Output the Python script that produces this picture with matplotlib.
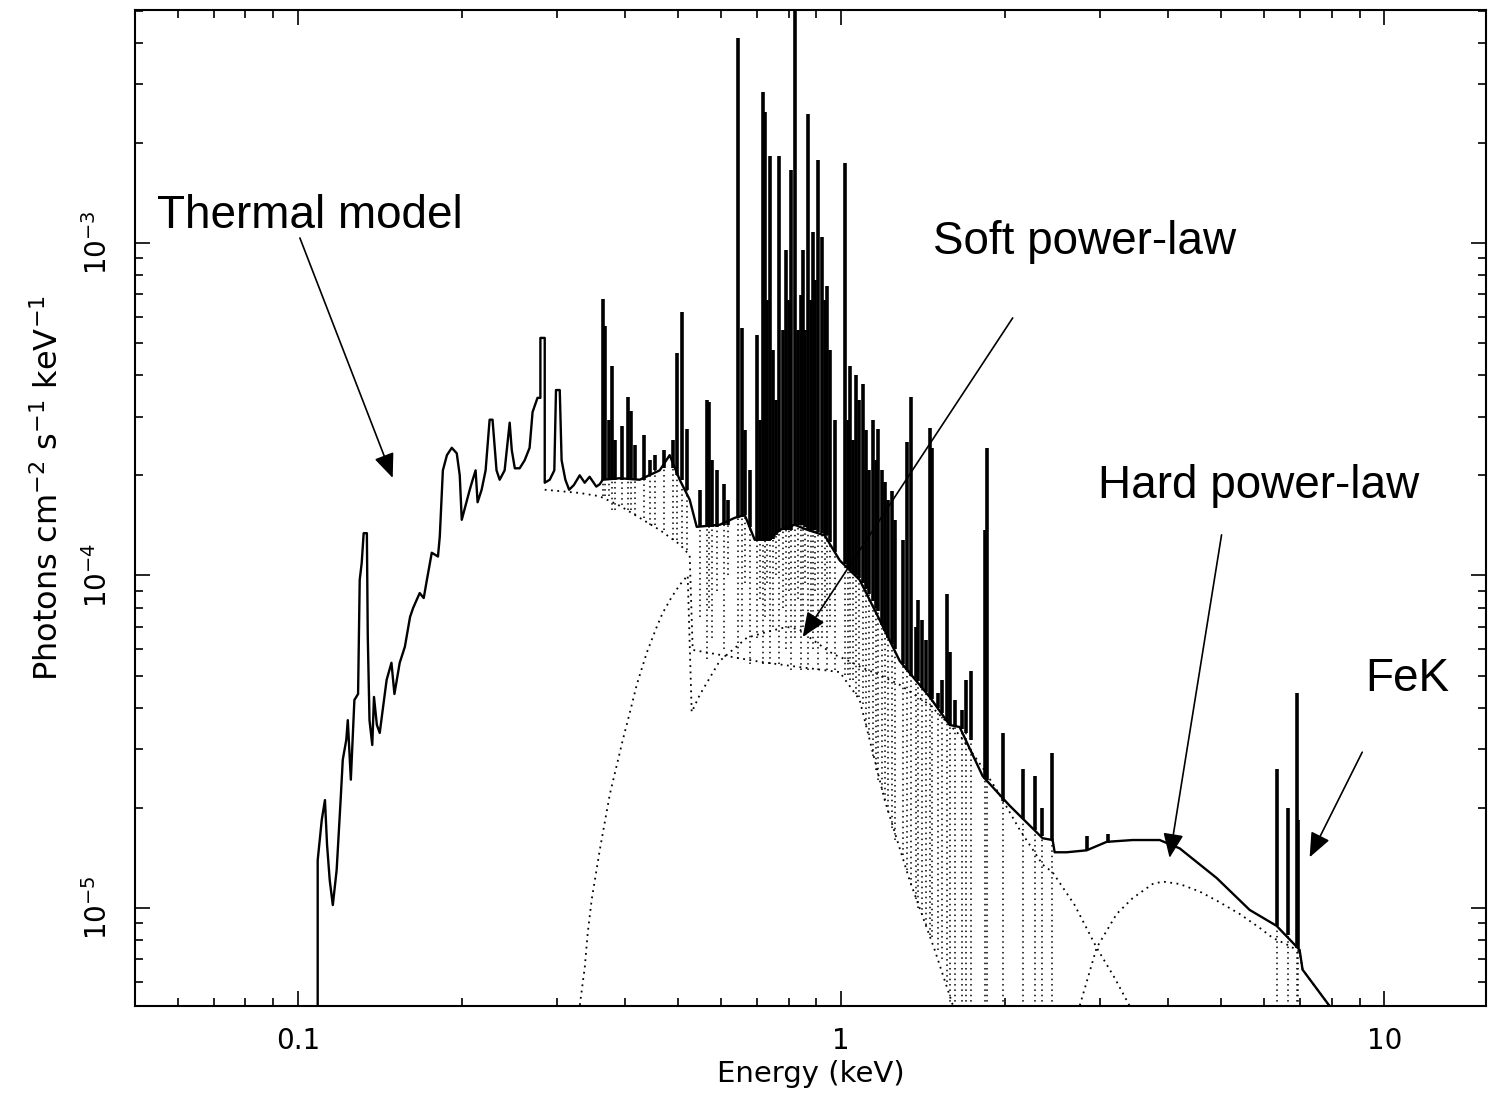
import numpy as np
import matplotlib
matplotlib.use('Agg')
import matplotlib.pyplot as plt
from matplotlib import ticker

# fluxes below are in units of 1e-5 photons cm^-2 s^-1 keV^-1, energies in keV

# total model: low energy part traced bin by bin, then the continuum under the lines
total_E = [0.1087, 0.1087, 0.1106, 0.1121, 0.1131, 0.1144, 0.1159, 0.1178, 0.1198, 0.1209,
           0.1227, 0.1235, 0.1251, 0.1270, 0.1290, 0.1299, 0.1310, 0.1321, 0.1339, 0.1344,
           0.1354, 0.1370, 0.1380, 0.1397, 0.1414, 0.1432, 0.1456, 0.1486, 0.1505, 0.1539,
           0.1573, 0.1608, 0.1629, 0.1675, 0.1704, 0.1727, 0.1763, 0.1810, 0.1824, 0.1848,
           0.1880, 0.1919, 0.1960, 0.1985, 0.2002, 0.2036, 0.2071, 0.2097, 0.2123, 0.2141,
           0.2178, 0.2215, 0.2253, 0.2281, 0.2320, 0.2351, 0.2401, 0.2453, 0.2475, 0.2507,
           0.2559, 0.2614, 0.2669, 0.2703, 0.2760, 0.2794, 0.2794, 0.2846, 0.2846, 0.2907,
           0.2964, 0.2985, 0.3033, 0.3057, 0.3106, 0.3156, 0.3220, 0.3301, 0.3371, 0.3442,
           0.3541, 0.3593, 0.3639, 0.3912, 0.4257, 0.4633, 0.4833, 0.5043, 0.5261, 0.5420,
           0.5975, 0.6368, 0.6644, 0.6931, 0.7386, 0.7705, 0.8209, 0.8675, 0.9324, 0.9937,
           1.0816, 1.1774, 1.2815, 1.4552, 1.5840, 1.6522, 1.8218, 2.0424, 2.3489, 2.4506,
           2.4717, 2.6006, 2.8308, 3.0814, 3.4401, 3.8572, 4.1997, 4.9118, 5.6494, 6.3333,
           6.9810, 7.0701, 7.9269, 8.1321]
total_F = [0.45, 1.39, 1.84, 2.11, 1.55, 1.21, 1.02, 1.30, 2.11, 2.79,
           3.20, 3.67, 2.43, 4.22, 4.40, 9.70, 10.9, 13.4, 13.4, 6.62,
           3.67, 3.09, 4.31, 3.55, 3.36, 3.94, 4.85, 5.46, 4.40, 5.46,
           6.10, 7.50, 7.98, 8.85, 8.55, 9.70, 11.7, 11.4, 13.1, 20.7,
           23.0, 24.2, 23.3, 20.0, 14.7, 16.3, 18.1, 19.4, 20.7, 16.6,
           18.1, 20.7, 29.4, 29.4, 20.7, 19.4, 20.7, 28.8, 23.8, 21.0,
           21.0, 22.2, 24.2, 31.0, 34.2, 34.2, 51.8, 51.8, 19.0, 19.4,
           20.7, 36.1, 36.1, 22.2, 19.4, 18.1, 18.7, 20.0, 19.0, 19.8,
           18.5, 18.8, 19.4, 19.6, 19.4, 20.7, 23.0, 19.4, 16.9, 14.0,
           14.2, 14.9, 15.2, 12.8, 12.8, 13.7, 14.2, 13.7, 13.2, 11.1,
           9.69, 7.34, 5.53, 4.31, 3.55, 3.50, 2.49, 2.03, 1.62, 1.60,
           1.47, 1.47, 1.49, 1.58, 1.60, 1.60, 1.51, 1.23, 0.986, 0.883,
           0.748, 0.652, 0.507, 0.45]

# emission lines: energy, foot on the total, peak, foot of the thermal (dotted) line
line_E = [0.3639, 0.3670, 0.3733, 0.3781, 0.3829, 0.3945, 0.4046, 0.4098, 0.4169, 0.4330,
          0.4441, 0.4536, 0.4712, 0.4896, 0.4979, 0.5086, 0.5194, 0.5490, 0.5655, 0.5703,
          0.5776, 0.5900, 0.6077, 0.6181, 0.6449, 0.6560, 0.6644, 0.6786, 0.6990, 0.7079,
          0.7170, 0.7232, 0.7293, 0.7386, 0.7481, 0.7576, 0.7673, 0.7804, 0.7904, 0.8005,
          0.8071, 0.8209, 0.8315, 0.8422, 0.8494, 0.8567, 0.8675, 0.8787, 0.8861, 0.8937,
          0.9051, 0.9206, 0.9324, 0.9404, 0.9524, 0.9728, 1.0149, 1.028, 1.0366, 1.050,
          1.0634, 1.077, 1.0954, 1.1094, 1.1235, 1.1428, 1.1575, 1.1674, 1.1873, 1.2026,
          1.2180, 1.2389, 1.2546, 1.2979, 1.3201, 1.3425, 1.3712, 1.3829, 1.4066, 1.4306,
          1.4552, 1.4677, 1.5053, 1.5311, 1.5640, 1.5840, 1.6180, 1.6664, 1.6948, 1.7312,
          1.8373, 1.8530, 1.9827, 2.1580, 2.2706, 2.3390, 2.4403, 2.8308, 3.0946, 6.3333,
          6.6348, 6.8930, 6.9219]
line_base = [19.4, 19.4, 19.4, 19.4, 19.4, 19.4, 19.4, 19.4, 19.4, 19.4,
             20.0, 20.7, 21.0, 21.0, 20.0, 19.4, 18.1, 14.0, 14.0, 14.0,
             14.0, 14.0, 14.2, 14.2, 14.9, 15.0, 15.2, 14.0, 12.8, 12.8,
             12.8, 12.8, 12.8, 12.8, 12.9, 13.2, 13.5, 13.7, 13.7, 13.7,
             13.7, 14.2, 14.2, 14.2, 14.2, 14.0, 13.7, 13.7, 13.7, 13.7,
             13.5, 13.4, 13.2, 13.2, 12.6, 11.8, 10.8, 10.5, 10.4, 10.2,
             10.0, 9.8, 9.5, 9.1, 8.8, 8.4, 8.0, 7.8, 7.1, 6.8,
             6.5, 6.2, 6.0, 5.4, 5.2, 5.0, 4.9, 4.8, 4.6, 4.45,
             4.31, 4.25, 4.0, 3.85, 3.65, 3.55, 3.52, 3.45, 3.35, 3.2,
             2.45, 2.42, 2.1, 1.85, 1.72, 1.64, 1.60, 1.49, 1.57, 0.883,
             0.83, 0.76, 0.76]
line_top = [67.9, 56.2, 29.4, 42.7, 25.6, 28.2, 34.4, 31.2, 24.7, 26.5,
            22.2, 23.0, 23.8, 25.6, 46.6, 62.0, 27.6, 18.1, 33.7, 33.3,
            22.2, 20.7, 18.8, 16.9, 414, 55.5, 27.4, 20.7, 52.8, 29.4,
            285, 248, 67.4, 183, 47.6, 33.7, 183, 54.7, 95.3, 67.4,
            166, 538, 54.7, 69.8, 95.3, 54.7, 244, 67.4, 108, 77.4,
            177, 104, 67.4, 74.3, 47.6, 29.4, 174, 29.4, 42.7, 25.6,
            40.1, 33.7, 37.6, 27.4, 20.7, 29.4, 22.2, 27.6, 20.7, 19.1,
            16.9, 17.9, 14.7, 12.8, 25.2, 34.4, 7.00, 8.44, 7.34, 6.40,
            27.8, 24.2, 4.43, 4.85, 8.80, 5.9, 4.22, 3.94, 4.85, 5.16,
            13.7, 24.2, 3.36, 2.62, 2.49, 2.00, 2.92, 1.65, 1.67, 2.62,
            2.00, 4.43, 1.84]
thermal_low = [17.3, 17.3, 17.3, 15.7, 15.7, 16.3, 15.7, 15.7, 15.2, 14.9,
               14.2, 14.2, 13.7, 12.8, 12.8, 12.4, 11.9, 7.5, 5.6, 8.0,
               6.5, 9.0, 6.0, 10.0, 5.6, 7.0, 9.5, 5.4, 6.5, 8.5,
               5.4, 7.5, 9.5, 5.4, 7.0, 10.0, 5.4, 8.0, 6.0, 9.0,
               5.2, 6.5, 8.5, 5.2, 7.0, 9.5, 5.2, 7.5, 6.0, 9.0,
               5.2, 6.5, 8.0, 5.2, 7.0, 5.2, 5.02, 5.02, 4.85, 4.85,
               4.4, 4.3, 4.1, 3.55, 3.31, 2.86, 2.60, 2.43, 2.26, 2.11,
               1.94, 1.74, 1.60, 1.44, 1.30, 1.17, 1.06, 1.0, 0.95, 0.89,
               0.83, 0.82, 0.748, 0.7, 0.6, 0.45, 0.45, 0.45, 0.45, 0.45,
               0.45, 0.45, 0.45, 0.45, 0.45, 0.45, 0.45, 1.49, 1.57, 0.45,
               0.45, 0.45, 0.45]

# thermal continuum (dotted)
th_E = [0.2846, 0.3301, 0.3593, 0.3912, 0.4257, 0.4633, 0.5043, 0.5261, 0.5329, 0.5975,
        0.7079, 0.8386, 0.9937, 1.0816, 1.2026, 1.3368, 1.4863, 1.6180]
th_F = [18.1, 17.7, 17.3, 16.2, 14.9, 13.7, 12.4, 11.5, 5.97, 5.77,
        5.50, 5.30, 5.12, 4.22, 2.11, 1.21, 0.748, 0.49]

# soft power-law (dotted)
spl_E = [0.3273, 0.3301, 0.3373, 0.3415, 0.3473, 0.3593, 0.3749, 0.3962, 0.4081, 0.4204,
         0.4385, 0.4575, 0.4692, 0.4875, 0.5043, 0.5217, 0.5306, 0.5490, 0.5975, 0.6701,
         0.7293, 0.7938, 0.8386, 0.8861, 0.9647, 1.0236, 1.0954, 1.1774, 1.2815, 1.4552,
         1.6522, 1.8218, 1.9578, 2.1308, 2.3489, 2.4506, 2.6903, 2.9534, 3.1874, 3.3969,
         3.4696]
spl_F = [0.49, 0.507, 0.665, 0.841, 1.06, 1.49, 2.19, 3.20, 3.86, 4.69,
         5.85, 7.00, 7.71, 8.61, 9.36, 10.0, 3.88, 4.37, 5.53, 6.49,
         6.76, 7.00, 6.88, 6.40, 5.81, 5.57, 5.27, 5.02, 4.69, 4.08,
         3.31, 2.64, 2.19, 1.72, 1.35, 1.28, 1.02, 0.759, 0.616, 0.507,
         0.477]

# hard power-law (dotted)
hpl_E = [2.714, 2.748, 2.9534, 3.2147, 3.4401, 3.7443, 3.9063, 4.1997, 4.5709, 4.9744,
         5.4150, 5.8935, 6.2263, 6.6913, 6.9810, 7.0701, 7.9269, 8.1321]
hpl_F = [0.49, 0.507, 0.759, 0.959, 1.07, 1.18, 1.20, 1.18, 1.12, 1.04,
         0.959, 0.871, 0.813, 0.769, 0.738, 0.652, 0.507, 0.477]

unit = 1e-5
dots = (0, (1, 2.5))

fig = plt.figure(figsize=(14.88, 10.95), dpi=100)
ax = fig.add_axes([0.0907, 0.0813, 0.9079, 0.9096])

line_E = np.array(line_E)
line_base = np.array(line_base) * unit
line_top = np.array(line_top) * unit
thermal_low = np.array(thermal_low) * unit

# dotted model components first, solid total on top
ax.plot(th_E, np.array(th_F) * unit, color='k', lw=1.3, ls=dots)
ax.plot(spl_E, np.array(spl_F) * unit, color='k', lw=1.3, ls=dots)
ax.plot(hpl_E, np.array(hpl_F) * unit, color='k', lw=1.3, ls=dots)
m = thermal_low < line_base
ax.vlines(line_E[m], thermal_low[m], line_top[m], colors='k', lw=1.1, linestyles=dots)

ax.plot(total_E, np.array(total_F) * unit, color='k', lw=1.7)
ax.vlines(line_E, line_base, line_top, colors='k', lw=2.6)

ax.set_xscale('log')
ax.set_yscale('log')
ax.set_xlim(0.0501, 15.38)
ax.set_ylim(5.07e-6, 5.02e-3)

ax.xaxis.set_major_formatter(ticker.FuncFormatter(lambda v, p: f'{v:g}'))
ax.xaxis.set_minor_formatter(ticker.NullFormatter())
ax.yaxis.set_minor_formatter(ticker.NullFormatter())
ax.tick_params(which='both', direction='in', top=True, right=True, width=1.2, labelsize=20)
ax.tick_params(which='major', length=11)
ax.tick_params(which='minor', length=6)
ax.tick_params(axis='x', pad=15)
ax.tick_params(axis='y', pad=16)
for lab in ax.get_yticklabels():
    lab.set_rotation(90)
    lab.set_va('center')
for s in ax.spines.values():
    s.set_linewidth(1.5)

ax.set_xlabel('Energy (keV)', fontsize=21, labelpad=4)
ax.set_ylabel(r'Photons cm$^{-2}$ s$^{-1}$ keV$^{-1}$', fontsize=23)
ax.yaxis.set_label_coords(-0.052, 0.52)

# annotations
afont = dict(fontsize=33, family='Liberation Sans', va='baseline')
head = dict(arrowstyle='-|>,head_length=0.6,head_width=0.25', color='k', lw=1.2,
            mutation_scale=25, shrinkA=0, shrinkB=0)
ax.text(0.0550, 1.11e-3, 'Thermal model', **afont)
ax.annotate('', xy=(0.1494, 1.964e-4), xytext=(0.1008, 1.035e-3), arrowprops=head)
ax.text(1.474, 9.27e-4, 'Soft power-law', **afont)
ax.annotate('', xy=(0.8494, 6.53e-5), xytext=(2.069, 5.95e-4), arrowprops=head)
ax.text(2.966, 1.71e-4, 'Hard power-law', **afont)
ax.annotate('', xy=(4.023, 1.414e-5), xytext=(5.015, 1.324e-4), arrowprops=head)
ax.text(9.21, 4.5e-5, 'FeK', **afont)
ax.annotate('', xy=(7.285, 1.42e-5), xytext=(9.104, 2.94e-5), arrowprops=head)

fig.savefig('out.png', dpi=100)
